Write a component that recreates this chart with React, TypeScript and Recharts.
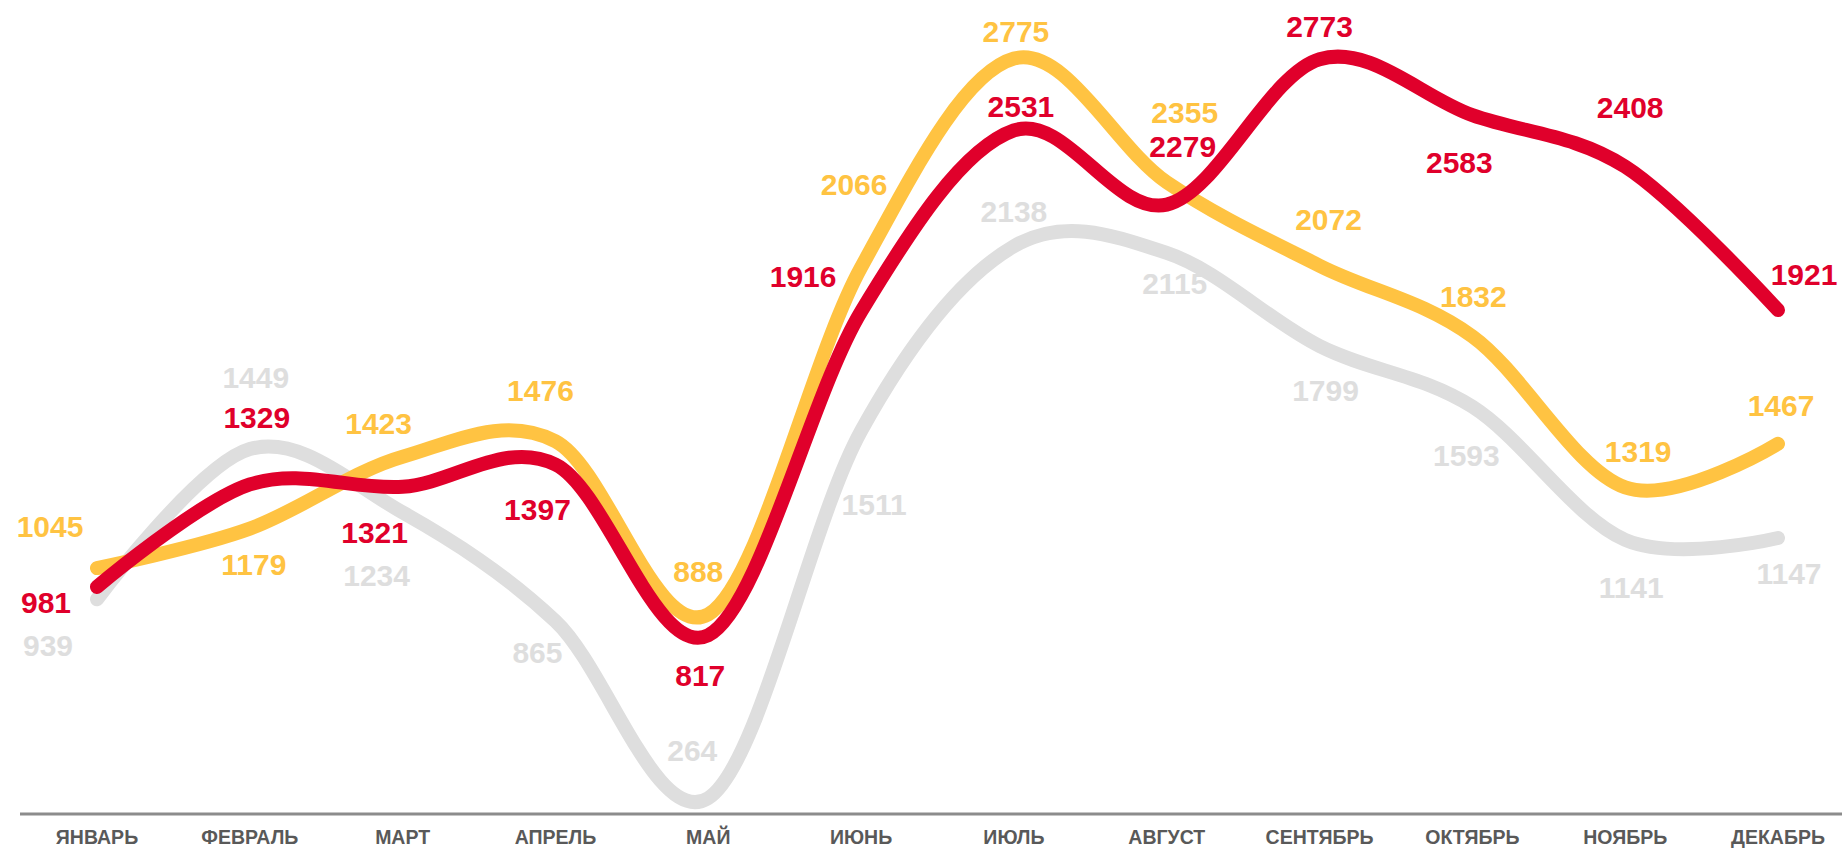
import React from "react";
import { LineChart, Line, XAxis, YAxis } from "recharts";

const months = ["ЯНВАРЬ", "ФЕВРАЛЬ", "МАРТ", "АПРЕЛЬ", "МАЙ", "ИЮНЬ", "ИЮЛЬ", "АВГУСТ", "СЕНТЯБРЬ", "ОКТЯБРЬ", "НОЯБРЬ", "ДЕКАБРЬ"];
const greySeries = [939, 1449, 1234, 865, 264, 1511, 2138, 2115, 1799, 1593, 1141, 1147];
const yellowSeries = [1045, 1179, 1423, 1476, 888, 2066, 2775, 2355, 2072, 1832, 1319, 1467];
const redSeries = [981, 1329, 1321, 1397, 817, 1916, 2531, 2279, 2773, 2583, 2408, 1921];

// label placement relative to each point (dx, dy of label centre)
const greyLabelOffsets = [[-49, 46], [6, -72], [-26, 63], [-18, 31], [-16, -48], [13, 74], [0, -35], [8, 31], [6, 44], [-6, 49], [6, 48], [11, 35]];
const yellowLabelOffsets = [[-47, -42], [4, 36], [-24, -33], [-15, -51], [-10, -43], [-7, -83], [2, -27], [18, -70], [9, -46], [1, -40], [13, -36], [3, -38]];
const redLabelOffsets = [[-51, 16], [7, -67], [-28, 46], [-18, 45], [-8, 40], [-58, -35], [7, -24], [16, -58], [0, -33], [-13, 47], [5, -59], [26, -36]];

const GREY = "#DEDEDE";
const YELLOW = "#FFC342";
const RED = "#E0002B";

const data = months.map((m, i) => ({
  month: m,
  grey: greySeries[i],
  yellow: yellowSeries[i],
  red: redSeries[i],
}));

// Cardinal (Catmull-Rom like) curve factory, similar to spreadsheet smoothing
const smoothCurve = (context: any) => {
  const k = 1 / 6;
  let x0 = NaN, y0 = NaN, x1 = NaN, y1 = NaN, x2 = NaN, y2 = NaN, pt = 0, line: number = NaN;
  const seg = (x: number, y: number) =>
    context.bezierCurveTo(
      x1 + k * (x2 - x0), y1 + k * (y2 - y0),
      x2 + k * (x1 - x), y2 + k * (y1 - y),
      x2, y2
    );
  return {
    areaStart() { line = 0; },
    areaEnd() { line = NaN; },
    lineStart() { x0 = x1 = x2 = y0 = y1 = y2 = NaN; pt = 0; },
    lineEnd() {
      if (pt === 2) context.lineTo(x2, y2);
      else if (pt === 3) seg(x1, y1);
      if (line || (line !== 0 && pt === 1)) context.closePath();
      line = 1 - line;
    },
    point(x: number, y: number) {
      x = +x; y = +y;
      switch (pt) {
        case 0: pt = 1; if (line) context.lineTo(x, y); else context.moveTo(x, y); break;
        case 1: pt = 2; x1 = x; y1 = y; break;
        case 2: pt = 3; seg(x, y); break;
        default: seg(x, y); break;
      }
      x0 = x1; x1 = x2; x2 = x;
      y0 = y1; y1 = y2; y2 = y;
    },
  };
};

const makeLabelDot = (offsets: number[][], color: string) => (props: any) => {
  const { cx, cy, index, value } = props;
  const off = offsets[index] || [0, -30];
  return (
    <text
      key={`lbl-${color}-${index}`}
      x={cx + off[0]}
      y={cy + off[1] + 10.5}
      textAnchor="middle"
      fill={color}
      fontFamily="'Liberation Sans', Arial, sans-serif"
      fontWeight="bold"
      fontSize={30}
    >
      {value}
    </text>
  );
};

export default function App() {
  return (
    <div style={{ position: "fixed", left: 0, top: 0, width: 1842, height: 849, background: "#fff" }}>
      <LineChart width={1842} height={849} data={data} margin={{ top: 10, right: 0, bottom: 0, left: 20 }}>
        <XAxis
          dataKey="month"
          height={35}
          padding={{ left: 77, right: 64 }}
          tickLine={false}
          tickSize={0}
          tickMargin={16}
          axisLine={{ stroke: "#8C8C8C", strokeWidth: 3 }}
          interval={0}
          tick={{ fill: "#595959", fontSize: 19.5, fontWeight: "bold", fontFamily: "'Liberation Sans', Arial, sans-serif" }}
        />
        <YAxis hide domain={[210, 2940]} />
        <Line
          dataKey="grey"
          type={smoothCurve as any}
          stroke={GREY}
          strokeWidth={14}
          strokeLinecap="round"
          dot={makeLabelDot(greyLabelOffsets, GREY)}
          activeDot={false}
          isAnimationActive={false}
        />
        <Line
          dataKey="yellow"
          type={smoothCurve as any}
          stroke={YELLOW}
          strokeWidth={14}
          strokeLinecap="round"
          dot={makeLabelDot(yellowLabelOffsets, YELLOW)}
          activeDot={false}
          isAnimationActive={false}
        />
        <Line
          dataKey="red"
          type={smoothCurve as any}
          stroke={RED}
          strokeWidth={14}
          strokeLinecap="round"
          dot={makeLabelDot(redLabelOffsets, RED)}
          activeDot={false}
          isAnimationActive={false}
        />
      </LineChart>
    </div>
  );
}
